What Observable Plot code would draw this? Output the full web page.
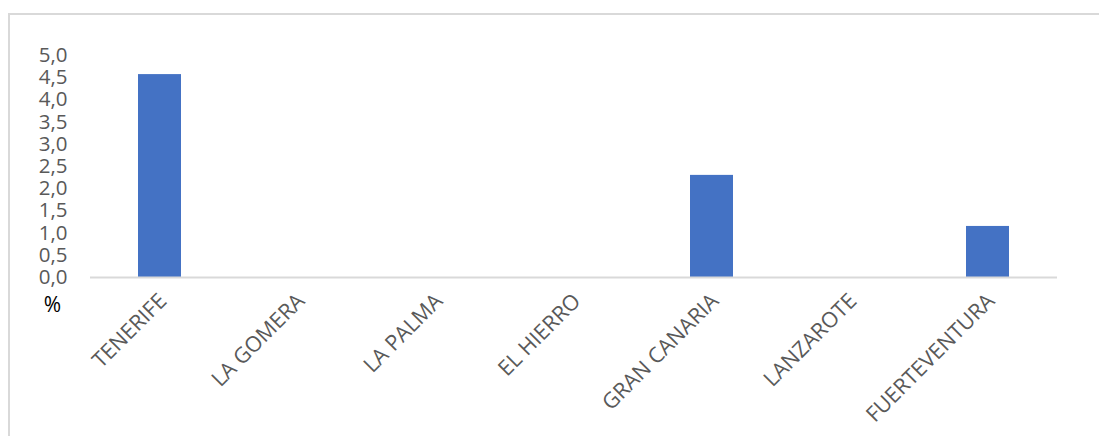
<!DOCTYPE html>
<html>
<head>
<meta charset="utf-8">
<script src="https://cdn.jsdelivr.net/npm/d3@7"></script>
<script src="https://cdn.jsdelivr.net/npm/@observablehq/plot@0.6"></script>
<style>
  html, body { margin: 0; padding: 0; background: #fff; }
  #wrap { position: relative; width: 1099px; height: 436px; overflow: hidden; }
  #frame { position: absolute; left: 8px; top: 13px; width: 1200px; height: 600px;
           border-left: 2px solid #d9d9d9; border-top: 2px solid #d9d9d9; box-sizing: border-box; }
  #chart { position: absolute; left: 0; top: 0; }
</style>
</head>
<body>
<div id="wrap"><div id="frame"></div><div id="chart"></div></div>
<script>
const islands = ["TENERIFE", "LA GOMERA", "LA PALMA", "EL HIERRO", "GRAN CANARIA", "LANZAROTE", "FUERTEVENTURA"];
const values = [4.57, 0, 0, 0, 2.30, 0, 1.15];
const yTicks = [0, 0.5, 1, 1.5, 2, 2.5, 3, 3.5, 4, 4.5, 5];
const unitLabel = ["%"];

const data = islands.map((name, i) => ({name, value: values[i]}));
const fmt = d => d3.format(".1f")(d).replace(".", ",");

const chart = Plot.plot({
  width: 1099,
  height: 436,
  marginLeft: 90,
  marginRight: 42,
  marginTop: 55,
  marginBottom: 159,
  style: {fontFamily: "'Open Sans', sans-serif", fontSize: "20px", color: "#595959", background: "transparent", overflow: "visible"},
  x: {domain: islands, paddingInner: 0.685, paddingOuter: 0.3425, label: null},
  y: {domain: [0, 5], label: null},
  marks: [
    Plot.axisY({ticks: yTicks, tickFormat: fmt, tickSize: 0, tickPadding: 23, label: null, fill: "#595959", fontSize: 20.5}),
    Plot.axisX({tickSize: 0, tickRotate: -45, tickPadding: 20, dx: 3, label: null, fill: "#595959", fontSize: 21.5}),
    Plot.barY(data, {x: "name", y: "value", fill: "#4472C4"}),
    Plot.ruleY([0], {stroke: "#d9d9d9", strokeWidth: 2}),
    Plot.text(unitLabel, {frameAnchor: "bottom-left", dx: -38, dy: 28, text: d => d, fill: "#000", fontSize: 21, textAnchor: "middle", lineAnchor: "middle"})
  ]
});
document.getElementById("chart").appendChild(chart);
</script>
</body>
</html>
